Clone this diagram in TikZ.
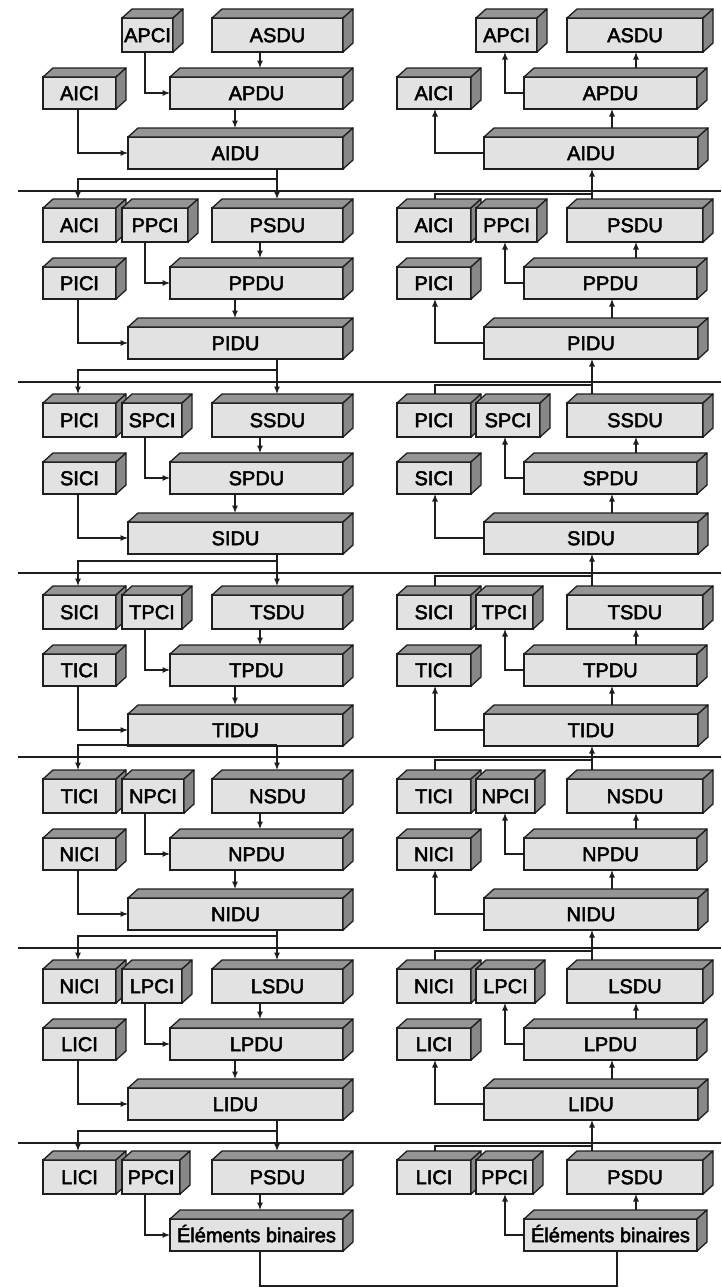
\documentclass[tikz,border=0pt]{standalone}
\usepackage{fontspec}
\newfontfamily\labfont[FakeBold=2.5]{Liberation Sans}
\usetikzlibrary{arrows.meta,calc}
\definecolor{frontc}{HTML}{E2E2E2}
\definecolor{topc}{HTML}{959595}
\definecolor{sidec}{HTML}{888888}
\definecolor{linec}{HTML}{1E1E1E}
\newcommand\cubefaces[1]{%
  \filldraw[face, fill=topc] (#1.north west) -- ([shift={(10pt,9pt)}]#1.north west) -- ([shift={(10pt,9pt)}]#1.north east) -- (#1.north east) -- cycle;
  \filldraw[face, fill=sidec] (#1.north east) -- ([shift={(10pt,9pt)}]#1.north east) -- ([shift={(10pt,9pt)}]#1.south east) -- (#1.south east) -- cycle;}
\begin{document}
\begin{tikzpicture}[x=1pt,y=-1pt,
  ubox/.style={draw=linec, line width=1.3pt, fill=frontc, inner sep=0pt, outer sep=0pt,
    anchor=north west, font=\labfont\fontsize{20}{22}\selectfont, text=black,
    text height=14.3pt, text depth=0pt},
  face/.style={draw=linec, line width=1.3pt, line join=round},
  conn/.style={draw=linec, line width=1.1pt},
  arr/.style={conn, -{Latex[length=7.5pt,width=6pt]}},
  sepline/.style={draw=linec, line width=1.1pt}]
\useasboundingbox (0,0) rectangle (721,1288);
\fill[white] (0,0) rectangle (721,1288);
% guide columns
\coordinate (gl1) at (78,0);
\coordinate (gl2) at (145,0);
\coordinate (gl3) at (235,0);
\coordinate (gl4) at (260,0);
\coordinate (gl5) at (277,0);
\coordinate (gr1) at (435,0);
\coordinate (gr2) at (505,0);
\coordinate (gr3) at (592,0);
\coordinate (gr4) at (612,0);
\coordinate (gr5) at (636,0);
% boxes of each section
\foreach \k/\o/\up/\pc/\pl/\pr/\sd/\ic/\pd/\id in {
  0/0/-/APCI/173/537/ASDU/AICI/APDU/AIDU,
  1/190/AICI/PPCI/188/537/PSDU/PICI/PPDU/PIDU,
  2/385/PICI/SPCI/182/540/SSDU/SICI/SPDU/SIDU,
  3/577/SICI/TPCI/182/533/TSDU/TICI/TPDU/TIDU,
  4/761/TICI/NPCI/184/535/NSDU/NICI/NPDU/NIDU,
  5/951/NICI/LPCI/182/535/LSDU/LICI/LPDU/LIDU,
  6/1142/LICI/PPCI/180/533/PSDU/-/{Éléments binaires}/-}{
  \ifnum\k>0
    \node[ubox, minimum width=73, minimum height=34] (L\k-uici) at (43,\o+18) {\up};
    \cubefaces{L\k-uici}
    \node[ubox, minimum width=74, minimum height=34] (R\k-uici) at (397,\o+18) {\up};
    \cubefaces{R\k-uici}
  \fi
  \node[ubox, minimum width=\pl-122, minimum height=34] (L\k-pci) at (122,\o+18) {\pc};
  \cubefaces{L\k-pci}
  \node[ubox, minimum width=\pr-476, minimum height=34] (R\k-pci) at (476,\o+18) {\pc};
  \cubefaces{R\k-pci}
  \node[ubox, minimum width=131, minimum height=34] (L\k-sdu) at (212,\o+18) {\sd};
  \cubefaces{L\k-sdu}
  \node[ubox, minimum width=136, minimum height=34] (R\k-sdu) at (567,\o+18) {\sd};
  \cubefaces{R\k-sdu}
  \node[ubox, minimum width=173, minimum height=32] (L\k-pdu) at (170,\o+77) {\pd};
  \cubefaces{L\k-pdu}
  \node[ubox, minimum width=173, minimum height=32] (R\k-pdu) at (524,\o+77) {\pd};
  \cubefaces{R\k-pdu}
  % PCI / SDU with PDU
  \draw[arr] (L\k-pci.south -| gl2) |- (L\k-pdu.west);
  \draw[arr] (L\k-sdu.south -| gl4) -- ($(L\k-pdu.north -| gl4)+(0,9pt)$);
  \draw[arr] (R\k-pdu.west) -| (R\k-pci.south -| gr2);
  \draw[arr] ($(R\k-pdu.north -| gr5)+(0,9pt)$) -- (R\k-sdu.south -| gr5);
  \ifnum\k<6
    \node[ubox, minimum width=73, minimum height=32] (L\k-ici) at (43,\o+77) {\ic};
    \cubefaces{L\k-ici}
    \node[ubox, minimum width=74, minimum height=32] (R\k-ici) at (397,\o+77) {\ic};
    \cubefaces{R\k-ici}
    \node[ubox, minimum width=215, minimum height=32] (L\k-idu) at (128,\o+137) {\id};
    \cubefaces{L\k-idu}
    \node[ubox, minimum width=214, minimum height=32] (R\k-idu) at (484,\o+137) {\id};
    \cubefaces{R\k-idu}
    \draw[arr] (L\k-pdu.south -| gl3) -- ($(L\k-idu.north -| gl3)+(0,9pt)$);
    \draw[arr] (L\k-ici.south -| gl1) |- (L\k-idu.west);
    \draw[arr] ($(R\k-idu.north -| gr4)+(0,9pt)$) -- (R\k-pdu.south -| gr4);
    \draw[arr] (R\k-idu.west) -| (R\k-ici.south -| gr1);
  \fi
}
% separators and links between sections
\foreach \k/\kn/\s in {0/1/191, 1/2/382, 2/3/573, 3/4/757, 4/5/948, 5/6/1143}{
  \coordinate (S\kn) at (18,\s);
  \coordinate (E\kn) at (721,\s);
  \draw[sepline] (S\kn) -- (E\kn);
  \draw[arr] (L\k-idu.south -| gl5) -- ($(L\kn-sdu.north -| gl5)+(0,9pt)$);
  \draw[arr] ($(S\kn -| gl5)+(0,12pt)$) -| ($(L\kn-uici.north -| gl1)+(0,9pt)$);
  \draw[arr] ($(R\kn-sdu.north -| gr3)+(0,9pt)$) -- (R\k-idu.south -| gr3);
  \draw[conn] ($(R\kn-uici.north -| gr1)+(0,9pt)$) |- ($(S\kn -| gr3)+(0,-3pt)$);
}
% link between the two bit streams
\coordinate (botL) at (260,1286);
\coordinate (botR) at (617,1286);
\draw[conn] (L6-pdu.south -| botL) -- (botL) -- (botR) -- (R6-pdu.south -| botR);
\end{tikzpicture}
\end{document}
